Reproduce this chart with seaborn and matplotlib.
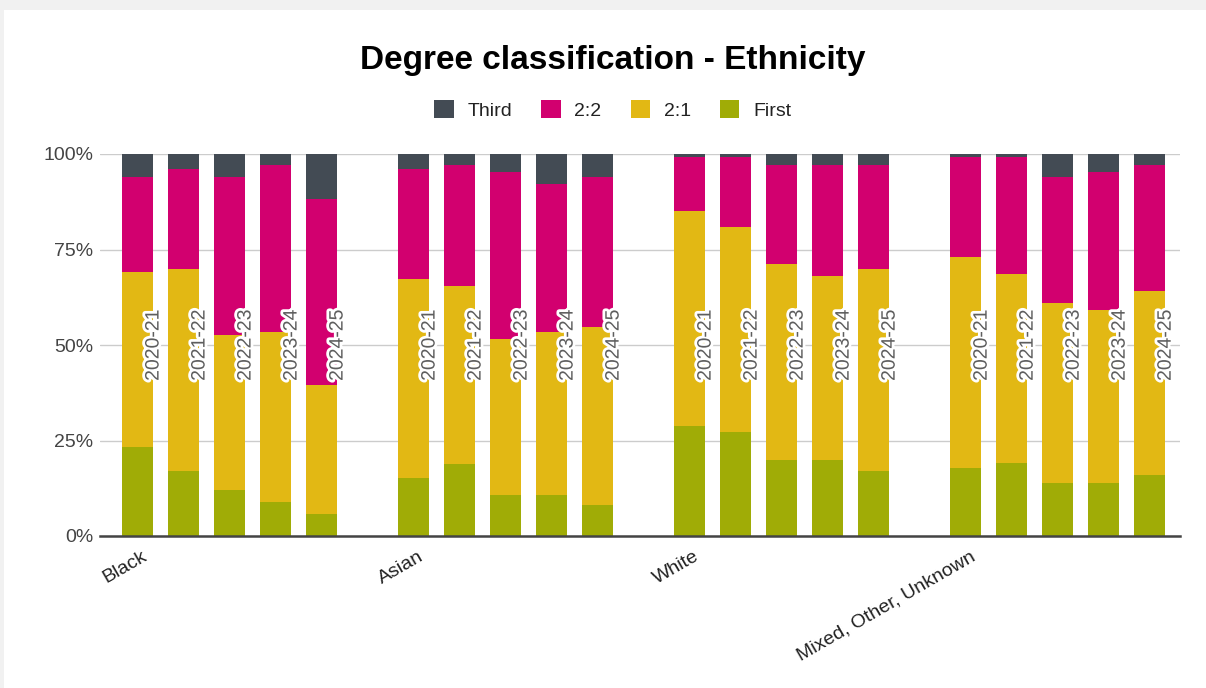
import numpy as np
import pandas as pd
import matplotlib.pyplot as plt
import matplotlib.patheffects as pe
from matplotlib.patches import Patch, Rectangle
import seaborn as sns

# Data (percent of each year's graduates)
groups = ['Black', 'Asian', 'White', 'Mixed, Other, Unknown']
years = ['2020-21', '2021-22', '2022-23', '2023-24', '2024-25']

first = [23.2, 17.0, 12.0, 9.0, 5.8,
         15.2, 18.8, 10.7, 10.7, 8.0,
         28.9, 27.1, 20.0, 20.0, 16.9,
         17.8, 19.2, 13.8, 13.8, 16.0]
upper_second = [45.8, 52.9, 40.6, 44.5, 33.8,
                52.0, 46.6, 40.9, 42.7, 46.7,
                56.2, 53.9, 51.2, 48.1, 53.0,
                55.2, 49.4, 47.2, 45.4, 48.1]
lower_second = [24.9, 26.2, 41.3, 43.6, 48.5,
                28.9, 31.6, 43.7, 38.8, 39.2,
                14.1, 18.2, 25.8, 28.9, 27.1,
                26.2, 30.6, 32.9, 36.1, 32.9]
third = [6.1, 3.9, 6.1, 2.9, 11.9,
         3.9, 3.0, 4.7, 7.8, 6.1,
         0.8, 0.8, 3.0, 3.0, 3.0,
         0.8, 0.8, 6.1, 4.7, 3.0]

series = ['Third', '2:2', '2:1', 'First']
colors = {'Third': '#434b54', '2:2': '#d2006f', '2:1': '#e2b814', 'First': '#a0ac06'}

# long-form table, one row per bar; a blank slot separates the groups
rows = []
for gi, g in enumerate(groups):
    for yi, y in enumerate(years):
        k = gi * len(years) + yi
        rows.append({'group': g, 'year': y, 'pos': gi * (len(years) + 1) + yi,
                     'First': first[k], '2:1': upper_second[k],
                     '2:2': lower_second[k], 'Third': third[k]})
df = pd.DataFrame(rows)
df['c_first'] = df['First']
df['c_21'] = df['c_first'] + df['2:1']
df['c_22'] = df['c_21'] + df['2:2']
df['c_third'] = df['c_22'] + df['Third']

sns.set_theme(style='white')
plt.rcParams['font.family'] = ['Liberation Sans', 'DejaVu Sans']

fig = plt.figure(figsize=(12.06, 6.88), dpi=100, facecolor='#f1f1f1')
fig.patches.append(Rectangle((4 / 1206, 0), 1, 1 - 10 / 688, transform=fig.transFigure,
                             facecolor='white', edgecolor='none', zorder=-1))
ax = fig.add_axes([100 / 1206, 1 - 536 / 688, 1080 / 1206, 382 / 688])
ax.set_facecolor('white')

# layered cumulative bars, tallest first
for col, name in [('c_third', 'Third'), ('c_22', '2:2'), ('c_21', '2:1'), ('c_first', 'First')]:
    sns.barplot(data=df, x='pos', y=col, color=colors[name], width=0.67,
                native_scale=True, saturation=1, errorbar=None, ax=ax, zorder=3,
                linewidth=0, edgecolor='none')

# year labels inside the bars
for _, r in df.iterrows():
    ax.text(r['pos'] + 0.36, 50, r['year'], rotation=90, ha='center', va='center',
            fontsize=14, color='#5e5e5e', zorder=5,
            path_effects=[pe.withStroke(linewidth=4, foreground='white')])

ax.set_xlim(-0.815, 22.66)
ax.set_ylim(0, 100)
ax.set_yticks([0, 25, 50, 75, 100])
ax.set_yticklabels(['0%', '25%', '50%', '75%', '100%'], fontsize=14, color='#444444')
ax.yaxis.grid(True, color='#cccccc', linewidth=1, zorder=0)
ax.set_axisbelow(True)

# group names sit just right of each group's first bar
group_pos = [gi * (len(years) + 1) + 0.18 for gi in range(len(groups))]
ax.set_xticks(group_pos)
ax.set_xticklabels(groups, rotation=30, ha='right', va='center', rotation_mode='anchor',
                   fontsize=14, color='#222222')
ax.set_xticks(df['pos'], minor=True)
ax.tick_params(axis='x', which='major', length=0, pad=14)
ax.tick_params(axis='x', which='minor', length=3, color='#aaaaaa', width=1)
ax.tick_params(axis='y', length=0, pad=5)
ax.set_xlabel('')
ax.set_ylabel('')

for s in ['top', 'right', 'left']:
    ax.spines[s].set_visible(False)
ax.spines['bottom'].set_color('#444444')
ax.spines['bottom'].set_linewidth(1.8)
ax.spines['bottom'].set_zorder(6)

fig.text(0.508, 1 - 60 / 688, 'Degree classification - Ethnicity', ha='center', va='center',
         fontsize=24, fontweight='bold', color='black')

handles = [Patch(facecolor=colors[s], edgecolor='none', label=s) for s in series]
fig.legend(handles=handles, loc='center', bbox_to_anchor=(0.508, 1 - 110 / 688), ncol=4,
           frameon=False, fontsize=14, handlelength=1.0, handleheight=1.0,
           handletextpad=0.7, columnspacing=1.5, labelcolor='#222222')

fig.savefig('out.png', dpi=100, facecolor=fig.get_facecolor())
